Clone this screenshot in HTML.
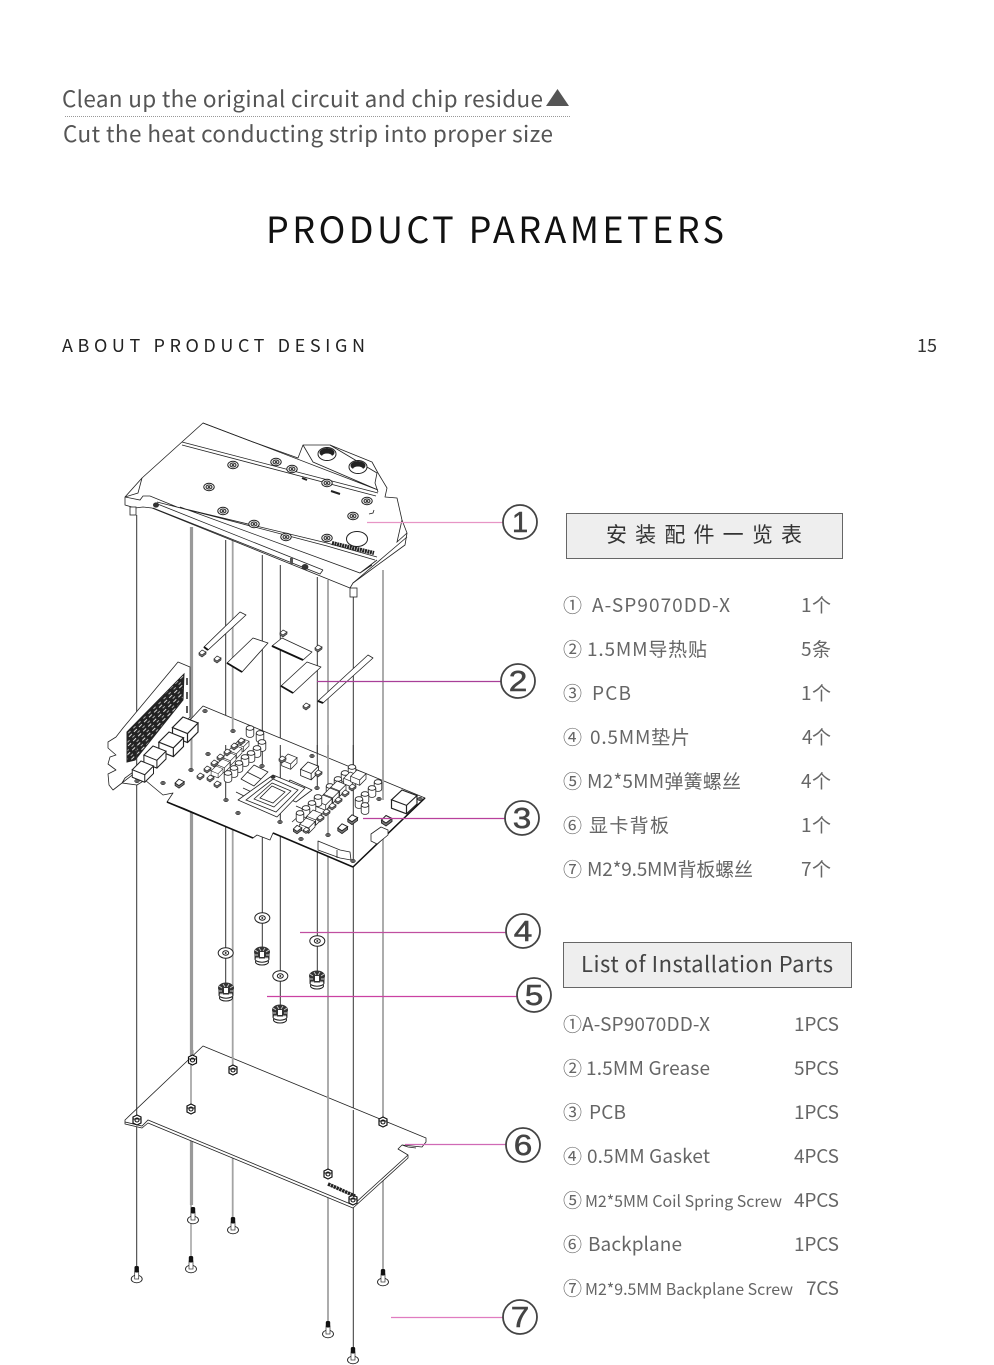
<!DOCTYPE html>
<html><head><meta charset="utf-8"><style>
html,body{margin:0;padding:0;background:#fff}
svg{display:block}
text{font-family:"Noto Sans CJK SC","Liberation Sans",sans-serif;fill:#555}
.d{stroke:#333;stroke-width:1;fill:none}
.g{stroke:#a3a3a3;stroke-width:1.8;fill:none}
.w{fill:#fff;stroke:#222;stroke-width:.8;stroke-linejoin:round}
.t{fill:none;stroke:#222;stroke-width:.8}
.r{font-size:19px;fill:#666}
.c{font-size:29px;fill:#444;stroke:#444;stroke-width:.5;text-anchor:middle;font-family:"Liberation Sans",sans-serif}
</style></head><body>
<svg width="994" height="1365" viewBox="0 0 994 1365" xmlns="http://www.w3.org/2000/svg">
<defs>
<pattern id="grill" width="7" height="6" patternUnits="userSpaceOnUse" patternTransform="rotate(-44)">
<rect width="7" height="6" fill="#222"/><rect x="1" y="1" width="4" height="1" fill="#ddd"/><rect x="3" y="4" width="3" height="1" fill="#aaa"/>
</pattern>
<g id="hole"><ellipse rx="2.4" ry="1.8" fill="#666" stroke="#222" stroke-width=".5"/></g>
<g id="sc"><ellipse rx="5.2" ry="3.7" fill="#fff" stroke="#222"/><ellipse rx="3" ry="2" fill="#fff" stroke="#222"/><ellipse rx="1.4" ry="1" fill="#333"/></g>
<g id="nut"><polygon points="-4,-3 0,-5 4,-3 4,3 0,5 -4,3" fill="#fff" stroke="#111" stroke-width="1.2"/><circle r="2" fill="none" stroke="#111" stroke-width="1.1"/><path d="M-4,-1H4" stroke="#111" stroke-width=".9"/></g>
<g id="screw"><ellipse cx="0" cy="0" rx="5.5" ry="3.8" fill="#fff" stroke="#222" stroke-width=".9"/><rect x="-2" y="-8" width="4" height="8" fill="#fff" stroke="#333" stroke-width=".7"/><rect x="-2.2" y="-13" width="4.4" height="6.5" rx="1.5" fill="#111"/></g>
<g id="washer"><ellipse rx="7.500" ry="5.200" fill="#fff" stroke="#222" stroke-width="1"/><ellipse rx="3" ry="2.200" fill="#fff" stroke="#222" stroke-width="1"/><circle r="1" fill="#333"/></g>
<g id="spring"><ellipse cx="0" cy="7" rx="6.500" ry="3" fill="#fff" stroke="#222"/><ellipse cx="0" cy="4" rx="7" ry="3.200" fill="#fff" stroke="#222"/><ellipse cx="0" cy="-3" rx="8" ry="5.500" fill="#333"/><rect x="-7.500" y="-3" width="15" height="6.500" fill="#333"/><path d="M-7,-5l3,2M-3,-7l2,3M3,-7l-2,3M7,-5l-3,2M-7,0h3M4,0h3M-6,3h3M3,3h3" stroke="#ccc" stroke-width=".9"/><rect x="-2" y="-3" width="4" height="5" fill="#fff"/></g>
<g id="cap"><path d="M-3.800,0V7A3.800,2.400 0 0 0 3.800,7V0" fill="#fff" stroke="#222" stroke-width=".8"/><ellipse rx="3.800" ry="2.300" fill="#fff" stroke="#222" stroke-width=".8"/></g>
<g id="box"><path d="M-7,7 L-7,13 L3,17 L10,10 L10,4Z M3,11 L3,17" fill="#fff" stroke="#222" stroke-width=".8"/><polygon points="0,0 10,4 3,11 -7,7" fill="#fff" stroke="#222" stroke-width=".8"/></g>
<g id="sq"><path d="M-3,0 L-3,2 L0,4 L4,1 L4,-1Z" fill="#777" stroke="#222" stroke-width=".6"/><polygon points="0,-3 4,-1 0,2 -3,0" fill="#fff" stroke="#222" stroke-width=".7"/></g>
</defs>

<!-- header text -->
<text x="62" y="107" font-size="22.500" textLength="481" lengthAdjust="spacing">Clean up the original circuit and chip residue</text>
<polygon points="546,106 569,106 557.500,89" fill="#555"/>
<line x1="65" y1="116.500" x2="571" y2="116.500" stroke="#999" stroke-width="1" stroke-dasharray="1 1"/>
<text x="63" y="142" font-size="22.500" textLength="490" lengthAdjust="spacing">Cut the heat conducting strip into proper size</text>
<text x="266" y="243" font-size="36" style="fill:#111" textLength="458" lengthAdjust="spacing">PRODUCT PARAMETERS</text>
<text x="62" y="352" font-size="18" style="fill:#222" textLength="303" lengthAdjust="spacing">ABOUT PRODUCT DESIGN</text>
<text x="917" y="352" font-size="18" style="fill:#333" textLength="20">15</text>

<!-- vertical guides -->
<path class="d" d="M136.700,515V1270M225.700,540V985M262.300,555V950M280.300,565V1005M317.300,577V975M353.300,595V1350"/>
<path class="g" d="M232.700,540V1225M328,580V1325M383,570V1272"/>
<path d="M191.500,527V1205" stroke="#999" stroke-width="3.200" fill="none"/>
<path d="M191,1205V1262" stroke="#888" stroke-width="1.200" fill="none"/>

<!-- top block -->
<polygon class="w" points="125,497 142,478 203,423 253,442 298,458 303,445 330,445 372,462 378,473 387,488 385,497 397,498 402,520 407,533 405,545 353,583 350,588 152,508 143,507 135,508 125,505"/>
<path class="t" d="M182,442L378,493M182,445L376,496M142,478L138,493 125,497M203,423L253,442 378,490M303,445L313,462 378,490M330,445L377,473 375,483 378,492"/>
<path class="t" d="M402,520L397,542 407,533M125,497L140,500 143,496 150,496 177,507 327,543 377,557M157,502L220,518 327,546 375,560M155,503L323,570 M153,508L320,574 323,570M180,507L360,573 377,560 M360,573L372,565"/>
<path class="t" d="M353,583L407,537"/>
<rect x="130" y="507" width="6" height="8" fill="#fff" stroke="#222" stroke-width=".8"/>
<rect x="350" y="588" width="7" height="9" fill="#fff" stroke="#222" stroke-width=".8"/>
<ellipse cx="156" cy="505" rx="3" ry="2.600" fill="#333"/>
<ellipse cx="305" cy="567" rx="3.400" ry="3" fill="#333"/>
<rect x="290" y="558" width="3" height="6" fill="#555"/>
<ellipse cx="327" cy="454" rx="9" ry="6.500" fill="#fff" stroke="#222"/><ellipse cx="327" cy="452.500" rx="7.500" ry="4.500" fill="#222"/><ellipse cx="327" cy="456" rx="5" ry="2.500" fill="#fff"/>
<ellipse cx="358" cy="467" rx="9" ry="6.500" fill="#fff" stroke="#222"/><ellipse cx="358" cy="465.500" rx="7.500" ry="4.500" fill="#222"/><ellipse cx="358" cy="469" rx="5" ry="2.500" fill="#fff"/>
<use href="#sc" x="233" y="465"/><use href="#sc" x="276" y="462"/><use href="#sc" x="292" y="469"/><use href="#sc" x="327" y="483"/><use href="#sc" x="367" y="501"/><use href="#sc" x="353" y="516"/><use href="#sc" x="209" y="487"/><use href="#sc" x="223" y="511"/><use href="#sc" x="254" y="524"/><use href="#sc" x="286" y="537"/><use href="#sc" x="327" y="538"/>
<ellipse cx="357" cy="539" rx="10.500" ry="7.500" fill="#fff" stroke="#222"/>
<path d="M332,543L374,553" stroke="#222" stroke-width="4" stroke-dasharray="2 .6"/>
<path d="M302,478l5,2M331,491l9,3" stroke="#222" stroke-width="2"/>
<path d="M369,514l4,-1 1,-3" class="t"/>

<!-- thermal pads -->
<g>
<polygon class="w" points="240,612 246,615 208,650 204,647"/>
<path d="M204,647L208,650" stroke="#111" stroke-width="2"/>
<polygon class="w" points="253,638 268,643 242,672 227,663"/><path d="M227,663L242,672" stroke="#111" stroke-width="1.800"/>
<polygon class="w" points="282,638 312,652 303,660 272,646"/><path d="M272,646L303,660" stroke="#111" stroke-width="1.800"/>
<polygon class="w" points="307,662 321,667 293,693 281,686"/><path d="M281,686L293,693" stroke="#111" stroke-width="1.800"/>
<polygon class="w" points="368,655 373,658 323,703 318,701"/><path d="M318,701L323,703" stroke="#111" stroke-width="2"/>
<use href="#sq" x="202" y="653"/><use href="#sq" x="217" y="659"/><use href="#sq" x="283" y="633"/><use href="#sq" x="318" y="648"/><use href="#sq" x="306" y="706"/>
</g>

<!-- PCB -->
<path class="w" d="M203,706L425,798 353,867 273,833 270,840 257,835 253,838 183,808 167,802 173,793 163,795 145,780 137,785 122,783 145,765 190,720Z"/>
<path d="M167,802L253,838M273,833L353,867M353,867L425,798" stroke="#111" stroke-width="1.500" fill="none"/>
<!-- guides over PCB -->
<path class="d" d="M225.700,745V800M262.300,730V766M280.300,745V822M317.300,745V788M353.300,745V861"/>
<path class="g" d="M232.700,710V731M328,745V835M383,770V800"/>
<path d="M191.500,720V770" stroke="#999" stroke-width="2" fill="none"/>

<!-- bracket -->
<path class="w" d="M178,662L190,667V717L150,760 136,770 125,778 122,783 113,790 109,785 108,774 116,770 108,764 110,757 116,755 108,748 108,742 116,737 123,728Z"/>
<polygon points="184,674 183,700 135,760 127,762 127,732" fill="url(#grill)" stroke="#222"/>
<path d="M187,678v7M187,692v7M187,706v7" stroke="#222" stroke-width="1.500"/>
<path class="d" d="M136.700,745V781"/>
<g>
<use href="#hole" x="205" y="711"/><use href="#hole" x="233" y="731"/><use href="#hole" x="262" y="766"/><use href="#hole" x="191" y="770"/><use href="#hole" x="208" y="754"/><use href="#hole" x="226" y="800"/><use href="#hole" x="238" y="813"/><use href="#hole" x="280" y="822"/><use href="#hole" x="317" y="788"/><use href="#hole" x="328" y="835"/><use href="#hole" x="353" y="861"/><use href="#hole" x="301" y="839"/><use href="#hole" x="137" y="781"/><use href="#hole" x="163" y="783"/><use href="#hole" x="379" y="799"/><use href="#hole" x="312" y="756"/><use href="#hole" x="420" y="799"/>
<!-- IO boxes -->
<use href="#box" transform="translate(183,717) scale(1.500)"/><use href="#box" transform="translate(169,732) scale(1.450)"/><use href="#box" transform="translate(153,746) scale(1.300)"/><use href="#box" transform="translate(141,761) scale(1.250)"/>
<!-- left caps -->
<use href="#cap" x="250" y="728"/><use href="#cap" x="260" y="733"/><use href="#cap" x="262" y="742"/><use href="#cap" x="257" y="748"/><use href="#cap" x="251" y="753"/><use href="#cap" x="245" y="757"/><use href="#cap" x="239" y="763"/><use href="#cap" x="234" y="768"/><use href="#cap" x="228" y="773"/>
<!-- small parts left -->
<use href="#box" transform="translate(241,738) scale(.8)"/><use href="#box" transform="translate(234,745) scale(.8)"/><use href="#box" transform="translate(228,752) scale(.8)"/><use href="#box" transform="translate(222,759) scale(.8)"/><use href="#box" transform="translate(216,766) scale(.7)"/>
<use href="#sq" x="241" y="741"/><use href="#sq" x="234" y="746"/><use href="#sq" x="227" y="752"/><use href="#sq" x="220" y="757"/><use href="#sq" x="214" y="763"/><use href="#sq" x="207" y="769"/><use href="#sq" x="200" y="776"/><use href="#sq" x="210" y="778"/><use href="#sq" x="217" y="784"/>
<use href="#sq" transform="translate(179,783) scale(1.300)"/>
<!-- VRAM + chip -->
<polygon class="w" points="254,765 268,772 254,786 241,779"/><path class="t" d="M247,772L261,779M243,788L256,794 M236,792L250,799"/>
<polygon class="w" points="290,780 312,790 296,802 280,795"/><path class="t" d="M296,806L312,813M300,815L292,822"/>
<polygon class="w" points="273,775 305,788 277,817 238,800"/>
<polygon class="t" points="273,779 298,790 276,812 246,800"/>
<polygon class="w" points="272,783 291,791 274,807 254,799"/>
<polygon class="t" points="272,786 285,792 273,803 260,798"/>
<ellipse cx="273" cy="777" rx="2.500" ry="1.800" fill="#333"/>
<use href="#box" transform="translate(288,754) scale(.9)"/><use href="#box" transform="translate(308,762) scale(1.050)"/><use href="#sq" x="282" y="759"/><use href="#sq" x="318" y="773"/>
<!-- right caps -->
<use href="#cap" x="352" y="767"/><use href="#cap" x="345" y="773"/><use href="#cap" x="338" y="779"/><use href="#cap" x="330" y="786"/><use href="#box" transform="translate(337,781) scale(.9)"/><use href="#box" transform="translate(330,788) scale(.9)"/><use href="#box" transform="translate(323,795) scale(.9)"/><use href="#box" transform="translate(350,772) scale(.9)"/><use href="#box" transform="translate(357,770) scale(.9)"/>
<use href="#cap" x="318" y="797"/><use href="#cap" x="312" y="803"/><use href="#cap" x="306" y="808"/><use href="#box" transform="translate(313,810) scale(.9)"/><use href="#box" transform="translate(306,818) scale(.9)"/><use href="#cap" x="300" y="813"/>
<use href="#cap" x="378" y="782"/><use href="#cap" x="372" y="788"/><use href="#cap" x="365" y="794"/><use href="#cap" x="359" y="799"/><use href="#cap" x="365" y="805"/>
<use href="#sq" x="345" y="793"/><use href="#sq" x="338" y="800"/><use href="#sq" x="332" y="806"/><use href="#sq" x="326" y="812"/><use href="#sq" x="320" y="818"/><use href="#sq" x="352" y="787"/>
<use href="#sq" transform="translate(297,829) scale(1.200)"/><use href="#sq" transform="translate(306,830) scale(.9)"/><use href="#sq" transform="translate(342,828) scale(1.400)"/><use href="#sq" transform="translate(352,819) scale(1.400)"/><use href="#sq" transform="translate(386,820) scale(1.500)"/>
<!-- connectors -->
<use href="#box" transform="translate(402,790) scale(1.500,1.400)"/>
<path class="w" d="M371,834l10,-7 7,3v5l-11,9 -6,-3z"/>
<polygon class="w" points="318,841 340,850 350,852 351,860 340,858 318,850"/>
<path class="t" d="M337,850v8"/>
</g>

<!-- washers and springs -->
<use href="#washer" x="225.700" y="953"/><use href="#washer" x="262.300" y="918"/><use href="#washer" x="280.300" y="976"/><use href="#washer" x="317.300" y="941"/>
<use href="#spring" x="226" y="991"/><use href="#spring" x="262" y="955"/><use href="#spring" x="280" y="1013"/><use href="#spring" x="317" y="979"/>

<!-- backplate -->
<path class="w" d="M125,1120L203,1046 426,1138V1142L422,1147 402,1145 398,1149 408,1155V1158L353,1208 148,1123 142,1128 125,1124Z"/>
<path class="t" d="M125,1122L142,1126 148,1120 353,1205 408,1155M402,1145L408,1147 416,1148"/>
<!-- guides over plate -->
<path class="d" d="M136.700,1108V1120M353.300,1110V1200"/>
<path class="g" d="M232.700,1056V1070M328,1095V1174M383,1115V1122"/>
<path d="M192,1050V1060" stroke="#999" stroke-width="3.200" fill="none"/>
<path d="M191,1060V1109" stroke="#999" stroke-width="1.500" fill="none"/>
<use href="#nut" x="137" y="1120"/><use href="#nut" x="192.500" y="1060"/><use href="#nut" x="191" y="1109"/><use href="#nut" x="233" y="1070"/><use href="#nut" x="383" y="1122"/><use href="#nut" x="328" y="1174"/><use href="#nut" x="353" y="1200"/>
<path d="M328,1184L355,1196" stroke="#222" stroke-width="3.500" stroke-dasharray="2.500 .6"/>
<use href="#screw" x="136.700" y="1279"/><use href="#screw" x="193" y="1220"/><use href="#screw" x="191" y="1269"/><use href="#screw" x="233" y="1230"/><use href="#screw" x="383" y="1282"/><use href="#screw" x="328" y="1334"/><use href="#screw" x="353" y="1360"/>

<!-- callouts -->
<g fill="none" stroke-width="1.300">
<path d="M367,522.500H503" stroke="#e795c5"/>
<path d="M317,681.500H501" stroke="#a83f98"/>
<path d="M363,818.500H505" stroke="#b8409c"/>
<path d="M300,932.500H506" stroke="#c04fa0"/>
<path d="M267,996.500H517" stroke="#cb42a2"/>
<path d="M405,1144.500H506" stroke="#d06ab5"/>
<path d="M391,1317.500H503" stroke="#e07cc0"/>
</g>
<g fill="none" stroke="#444" stroke-width="1.800">
<circle cx="520" cy="522" r="17"/><circle cx="518" cy="681" r="17"/><circle cx="522" cy="818" r="17"/><circle cx="523" cy="931" r="17"/><circle cx="534" cy="995" r="17"/><circle cx="523" cy="1145" r="17"/><circle cx="520" cy="1317" r="17"/>
</g>
<text class="c" transform="translate(520,532)">1</text>
<text class="c" transform="translate(518,691) scale(1.150,1)">2</text>
<text class="c" transform="translate(522,828) scale(1.150,1)">3</text>
<text class="c" transform="translate(523,941) scale(1.150,1)">4</text>
<text class="c" transform="translate(534,1005) scale(1.150,1)">5</text>
<text class="c" transform="translate(523,1155) scale(1.150,1)">6</text>
<text class="c" transform="translate(520,1327) scale(1.150,1)">7</text>

<!-- table 1 -->
<rect x="566.500" y="513.500" width="276" height="45" fill="#eeeeee" stroke="#666" stroke-width="1"/>
<text x="606" y="542" font-size="21" style="fill:#333" textLength="196" lengthAdjust="spacing">安装配件一览表</text>
<g>
<text class="r" x="563" y="612">①</text><text class="r" x="592" y="612" textLength="138" lengthAdjust="spacing">A-SP9070DD-X</text><text class="r" x="801" y="612" textLength="30">1个</text>
<text class="r" x="563" y="656">②</text><text class="r" x="587" y="656" textLength="120" lengthAdjust="spacing">1.5MM导热贴</text><text class="r" x="801" y="656" textLength="30">5条</text>
<text class="r" x="563" y="700">③</text><text class="r" x="592" y="700" textLength="39" lengthAdjust="spacing">PCB</text><text class="r" x="801" y="700" textLength="30">1个</text>
<text class="r" x="563" y="744">④</text><text class="r" x="590" y="744" textLength="100" lengthAdjust="spacing">0.5MM垫片</text><text class="r" x="802" y="744" textLength="29">4个</text>
<text class="r" x="563" y="788">⑤</text><text class="r" x="587" y="788" textLength="154" lengthAdjust="spacing">M2*5MM弹簧螺丝</text><text class="r" x="801" y="788" textLength="30">4个</text>
<text class="r" x="563" y="832">⑥</text><text class="r" x="589" y="832" textLength="80" lengthAdjust="spacing">显卡背板</text><text class="r" x="801" y="832" textLength="30">1个</text>
<text class="r" x="563" y="876">⑦</text><text class="r" x="587" y="876" textLength="166" lengthAdjust="spacing">M2*9.5MM背板螺丝</text><text class="r" x="801" y="876" textLength="30">7个</text>
</g>

<!-- table 2 -->
<rect x="563.500" y="942.500" width="288" height="45" fill="#eeeeee" stroke="#666" stroke-width="1"/>
<text x="581" y="972" font-size="22" style="fill:#444" textLength="252" lengthAdjust="spacing">List of Installation Parts</text>
<text class="r" x="563" y="1031">①</text><text class="r" x="582" y="1031" textLength="128" lengthAdjust="spacing">A-SP9070DD-X</text><text class="r" x="794" y="1031" textLength="45">1PCS</text>
<text class="r" x="563" y="1075">②</text><text class="r" x="586" y="1075" textLength="124" lengthAdjust="spacing">1.5MM Grease</text><text class="r" x="794" y="1075" textLength="45">5PCS</text>
<text class="r" x="563" y="1119">③</text><text class="r" x="589" y="1119" textLength="37" lengthAdjust="spacing">PCB</text><text class="r" x="794" y="1119" textLength="45">1PCS</text>
<text class="r" x="563" y="1163">④</text><text class="r" x="587" y="1163" textLength="123" lengthAdjust="spacing">0.5MM Gasket</text><text class="r" x="794" y="1163" textLength="45">4PCS</text>
<text class="r" x="563" y="1207">⑤</text><text class="r" x="585" y="1207" style="font-size:16px" textLength="197" lengthAdjust="spacingAndGlyphs">M2*5MM Coil Spring Screw</text><text class="r" x="794" y="1207" textLength="45">4PCS</text>
<text class="r" x="563" y="1251">⑥</text><text class="r" x="588" y="1251" textLength="94" lengthAdjust="spacing">Backplane</text><text class="r" x="794" y="1251" textLength="45">1PCS</text>
<text class="r" x="563" y="1295">⑦</text><text class="r" x="585" y="1295" style="font-size:16px" textLength="208" lengthAdjust="spacingAndGlyphs">M2*9.5MM Backplane Screw</text><text class="r" x="806" y="1295" textLength="33">7CS</text>
</svg>
</body></html>
